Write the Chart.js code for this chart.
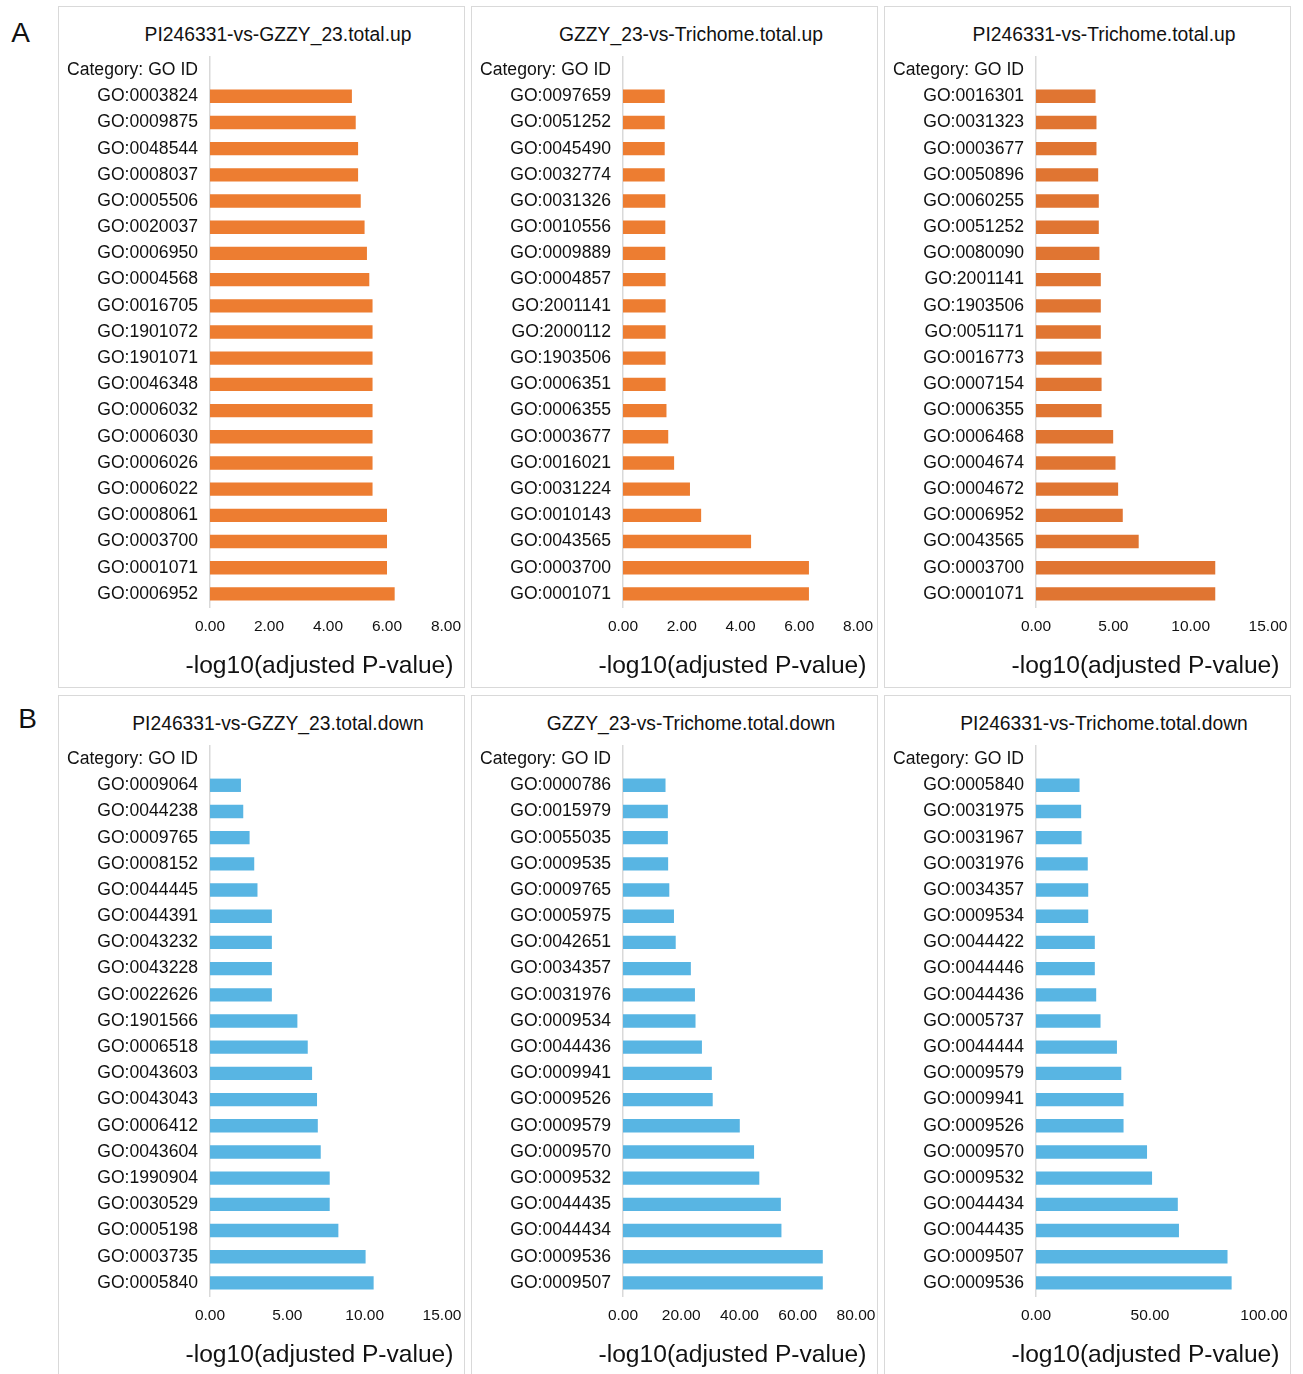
<!DOCTYPE html>
<html>
<head>
<meta charset="utf-8">
<script src="https://cdn.jsdelivr.net/npm/chart.js@4.4.1/dist/chart.umd.min.js"></script>
<style>
  html, body { margin:0; padding:0; background:#fff; width:1303px; height:1374px; overflow:hidden; }
  .panel { position:absolute; width:407px; height:682px; box-sizing:border-box; border:1.5px solid #d9d9d9; }
  .cv { position:absolute; }
  .ttl { position:absolute; font-family:"Liberation Sans", Arial, sans-serif; font-size:19.3px; color:#111; white-space:nowrap; transform:translate(-50%,-50%); line-height:1; }
  .axt { position:absolute; font-family:"Liberation Sans", Arial, sans-serif; font-size:24.6px; color:#111; white-space:nowrap; transform:translate(-50%,-50%); line-height:1; }
  .letter { position:absolute; font-family:"Liberation Sans", Arial, sans-serif; font-size:28px; color:#111; transform:translate(-50%,-50%); line-height:1; }
</style>
</head>
<body>
<script>
// ---------- data ----------
const panelTitles = [
  "PI246331-vs-GZZY_23.total.up",
  "GZZY_23-vs-Trichome.total.up",
  "PI246331-vs-Trichome.total.up",
  "PI246331-vs-GZZY_23.total.down",
  "GZZY_23-vs-Trichome.total.down",
  "PI246331-vs-Trichome.total.down"
];
const headerLabel = "Category: GO ID";
const axisTitle = "-log10(adjusted P-value)";

const ids1 = ["GO:0003824","GO:0009875","GO:0048544","GO:0008037","GO:0005506","GO:0020037","GO:0006950","GO:0004568","GO:0016705","GO:1901072","GO:1901071","GO:0046348","GO:0006032","GO:0006030","GO:0006026","GO:0006022","GO:0008061","GO:0003700","GO:0001071","GO:0006952"];
const vals1 = [4.81,4.94,5.02,5.02,5.11,5.24,5.32,5.40,5.51,5.51,5.51,5.51,5.51,5.51,5.51,5.51,6.00,6.00,6.00,6.26];

const ids2 = ["GO:0097659","GO:0051252","GO:0045490","GO:0032774","GO:0031326","GO:0010556","GO:0009889","GO:0004857","GO:2001141","GO:2000112","GO:1903506","GO:0006351","GO:0006355","GO:0003677","GO:0016021","GO:0031224","GO:0010143","GO:0043565","GO:0003700","GO:0001071"];
const vals2 = [1.42,1.42,1.42,1.42,1.44,1.44,1.44,1.45,1.45,1.45,1.45,1.45,1.48,1.54,1.74,2.28,2.66,4.36,6.33,6.33];

const ids3 = ["GO:0016301","GO:0031323","GO:0003677","GO:0050896","GO:0060255","GO:0051252","GO:0080090","GO:2001141","GO:1903506","GO:0051171","GO:0016773","GO:0007154","GO:0006355","GO:0006468","GO:0004674","GO:0004672","GO:0006952","GO:0043565","GO:0003700","GO:0001071"];
const vals3 = [3.85,3.91,3.91,4.02,4.06,4.06,4.10,4.19,4.19,4.19,4.24,4.24,4.24,4.99,5.14,5.31,5.61,6.64,11.59,11.59];

const ids4 = ["GO:0009064","GO:0044238","GO:0009765","GO:0008152","GO:0044445","GO:0044391","GO:0043232","GO:0043228","GO:0022626","GO:1901566","GO:0006518","GO:0043603","GO:0043043","GO:0006412","GO:0043604","GO:1990904","GO:0030529","GO:0005198","GO:0003735","GO:0005840"];
const vals4 = [2.00,2.15,2.56,2.86,3.07,4.00,4.00,4.00,4.00,5.65,6.32,6.60,6.92,6.97,7.16,7.74,7.74,8.30,10.06,10.58];

const ids5 = ["GO:0000786","GO:0015979","GO:0055035","GO:0009535","GO:0009765","GO:0005975","GO:0042651","GO:0034357","GO:0031976","GO:0009534","GO:0044436","GO:0009941","GO:0009526","GO:0009579","GO:0009570","GO:0009532","GO:0044435","GO:0044434","GO:0009536","GO:0009507"];
const vals5 = [14.6,15.4,15.4,15.5,15.9,17.5,18.1,23.3,24.7,24.9,27.1,30.5,30.8,40.1,45.0,46.8,54.2,54.4,68.6,68.6];

const ids6 = ["GO:0005840","GO:0031975","GO:0031967","GO:0031976","GO:0034357","GO:0009534","GO:0044422","GO:0044446","GO:0044436","GO:0005737","GO:0044444","GO:0009579","GO:0009941","GO:0009526","GO:0009570","GO:0009532","GO:0044434","GO:0044435","GO:0009507","GO:0009536"];
const vals6 = [19.1,19.8,20.0,22.7,22.9,22.9,25.8,25.8,26.4,28.3,35.5,37.4,38.4,38.4,48.7,50.9,62.2,62.7,84.0,85.8];

const axisMax  = [8, 8, 15, 15, 80, 100];
const axisStep = [2, 2, 5, 5, 20, 50];

// ---------- styling / layout ----------
const panelIds  = [ids1, ids2, ids3, ids4, ids5, ids6];
const panelVals = [vals1, vals2, vals3, vals4, vals5, vals6];
const colors = ["#ED7D31", "#ED7D31", "#E07532", "#58B5E3", "#58B5E3", "#58B5E3"];
const panelX = [58, 471, 884];
const panelY = [6, 695];
const rightPad = [19, 20, 23, 23, 22, 27];
const FONT = "'Liberation Sans', Arial, sans-serif";
const TXT = "#111";

function addEl(cls, text, x, y) {
  const d = document.createElement('div');
  d.className = cls;
  d.textContent = text;
  d.style.left = x + 'px';
  d.style.top = y + 'px';
  document.body.appendChild(d);
}

addEl('letter', 'A', 20.5, 33);
addEl('letter', 'B', 27.5, 719);

for (let i = 0; i < 6; i++) {
  const px = panelX[i % 3], py = panelY[Math.floor(i / 3)];
  const box = document.createElement('div');
  box.className = 'panel';
  box.style.left = px + 'px';
  box.style.top = py + 'px';
  document.body.appendChild(box);

  addEl('ttl', panelTitles[i], px + 220, py + 29);

  const cv = document.createElement('canvas');
  cv.className = 'cv';
  cv.width = 407; cv.height = 682;
  cv.style.left = px + 'px';
  cv.style.top = py + 'px';
  cv.style.width = '407px'; cv.style.height = '682px';
  document.body.appendChild(cv);

  addEl('axt', axisTitle, px + 261.5, py + 659);

  new Chart(cv.getContext('2d'), {
    type: 'bar',
    data: {
      labels: [headerLabel].concat(panelIds[i]),
      datasets: [{
        data: [null].concat(panelVals[i]),
        backgroundColor: colors[i],
        borderWidth: 0,
        categoryPercentage: 1,
        barPercentage: 0.51
      }]
    },
    options: {
      indexAxis: 'y',
      responsive: false,
      animation: false,
      devicePixelRatio: 1,
      layout: { padding: { left: 8, right: rightPad[i], top: 51, bottom: 0 } },
      plugins: { legend: { display: false }, tooltip: { enabled: false }, title: { display: false } },
      scales: {
        y: {
          grid: { display: false, drawTicks: false },
          border: { display: true, color: '#d9d9d9', width: 1.5 },
          ticks: { color: TXT, font: { family: FONT, size: 17.6 }, padding: 12, autoSkip: false },
          afterFit(s) { s.width = 144; s.paddingTop = 0; s.paddingBottom = 0; }
        },
        x: {
          min: 0, max: axisMax[i],
          grid: { display: false, drawTicks: false },
          border: { display: false },
          ticks: {
            stepSize: axisStep[i], color: TXT, font: { family: FONT, size: 15.5 }, padding: 10,
            callback: v => Number(v).toFixed(2)
          },
          title: { display: false },
          afterFit(s) { s.height = 81; s.paddingLeft = 0; s.paddingRight = 0; }
        }
      }
    }
  });
}
</script>
</body>
</html>
